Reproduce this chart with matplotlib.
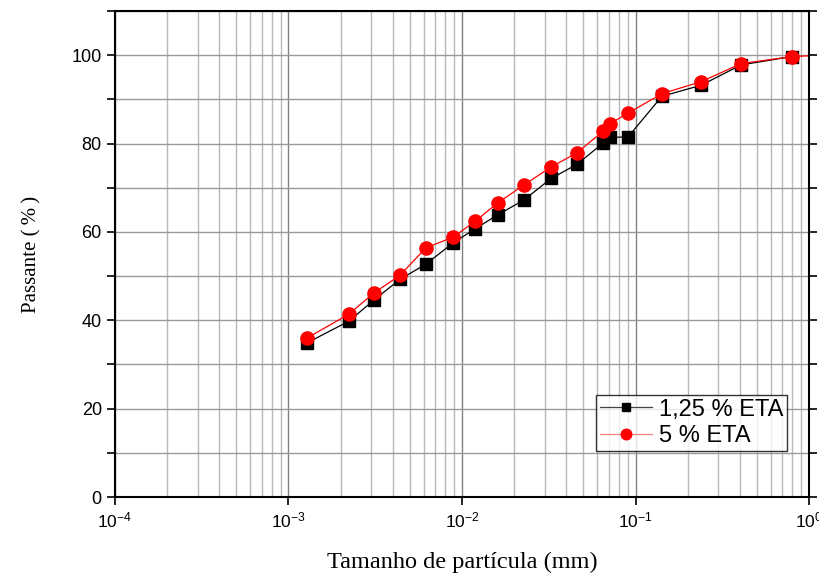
import numpy as np
import matplotlib.pyplot as plt
from matplotlib.ticker import LogLocator, NullFormatter, MultipleLocator

plt.rcParams['mathtext.fontset'] = 'custom'
plt.rcParams['mathtext.rm'] = 'Liberation Sans'
plt.rcParams['mathtext.it'] = 'Liberation Sans'
plt.rcParams['mathtext.default'] = 'regular'

# particle size (mm) and passing (%)
size_125 = [0.00128, 0.00223, 0.00311, 0.00440, 0.00619, 0.00887, 0.0119, 0.0161,
            0.0227, 0.0326, 0.046, 0.065, 0.0713, 0.0906, 0.142, 0.239, 0.406, 0.80]
pass_125 = [34.9, 39.8, 44.6, 49.3, 52.7, 57.5, 60.7, 63.9,
            67.2, 72.1, 75.3, 80.1, 81.4, 81.5, 90.7, 93.2, 97.8, 99.7]

size_5 = [0.00128, 0.00223, 0.00311, 0.00440, 0.00619, 0.00887, 0.0119, 0.0161,
          0.0227, 0.0326, 0.046, 0.065, 0.0713, 0.0906, 0.142, 0.239, 0.406, 0.80, 1.2]
pass_5 = [36.0, 41.4, 46.2, 50.2, 56.4, 58.8, 62.4, 66.6,
          70.6, 74.7, 77.9, 82.8, 84.5, 86.9, 91.3, 94.0, 98.1, 99.7, 100.0]

label_125 = '1,25 % ETA'
label_5 = '5 % ETA'

fig = plt.figure(figsize=(8.19, 5.74), dpi=100)
ax = fig.add_axes([0.1404, 0.1341, 0.8474, 0.8467])

ax.plot(size_125, pass_125, color='black', lw=0.9, marker='s', ms=8,
        mfc='black', mec='black', label=label_125)
ax.plot(size_5, pass_5, color='red', lw=0.9, marker='o', ms=9.5,
        mfc='red', mec='red', label=label_5)

ax.set_xscale('log')
ax.set_xlim(1e-4, 1)
ax.set_ylim(0, 110)

ax.xaxis.set_major_locator(LogLocator(base=10, numticks=10))
ax.xaxis.set_minor_locator(LogLocator(base=10, subs=np.arange(2, 10), numticks=50))
ax.xaxis.set_minor_formatter(NullFormatter())
ax.yaxis.set_major_locator(MultipleLocator(20))
ax.yaxis.set_minor_locator(MultipleLocator(10))

ax.grid(True, which='major', axis='x', color='#808080', lw=1.0)
ax.grid(True, which='minor', axis='x', color='#b8b8b8', lw=1.0)
ax.grid(True, which='both', axis='y', color='#9a9a9a', lw=1.0)
ax.set_axisbelow(True)

ax.tick_params(axis='both', which='major', direction='out', length=6, width=1.2,
               right=True, top=False)
ax.tick_params(axis='y', which='major', labelsize=13)
ax.tick_params(axis='x', which='major', labelsize=12.5, pad=4)
ax.tick_params(axis='y', which='minor', direction='out', length=6, width=1.2, right=True)
ax.tick_params(axis='x', which='minor', length=0)
for lab in ax.get_xticklabels() + ax.get_yticklabels():
    lab.set_fontfamily('Liberation Sans')

for sp in ax.spines.values():
    sp.set_linewidth(1.5)

ax.set_xlabel('Tamanho de partícula (mm)', family='Liberation Serif', fontsize=17.5, labelpad=15)
ax.set_ylabel('Passante (\u2009%\u2009)', family='Liberation Serif', fontsize=15, labelpad=22)

leg = ax.legend(loc='lower right', bbox_to_anchor=(0.968, 0.0947), frameon=True,
                fancybox=False, edgecolor='black', prop={'family': 'Liberation Sans', 'size': 17},
                handlelength=2.2, handletextpad=0.3, borderpad=0.15, labelspacing=0.2,
                borderaxespad=0.0, markerscale=0.8)
leg.get_frame().set_linewidth(1.0)
hl = leg.get_lines()
hl[0].set_color('#444444')
hl[0].set_markerfacecolor('black')
hl[0].set_markeredgecolor('black')
hl[1].set_color('#ff8080')
hl[1].set_markerfacecolor('red')
hl[1].set_markeredgecolor('red')

fig.savefig('out.png', dpi=100)
